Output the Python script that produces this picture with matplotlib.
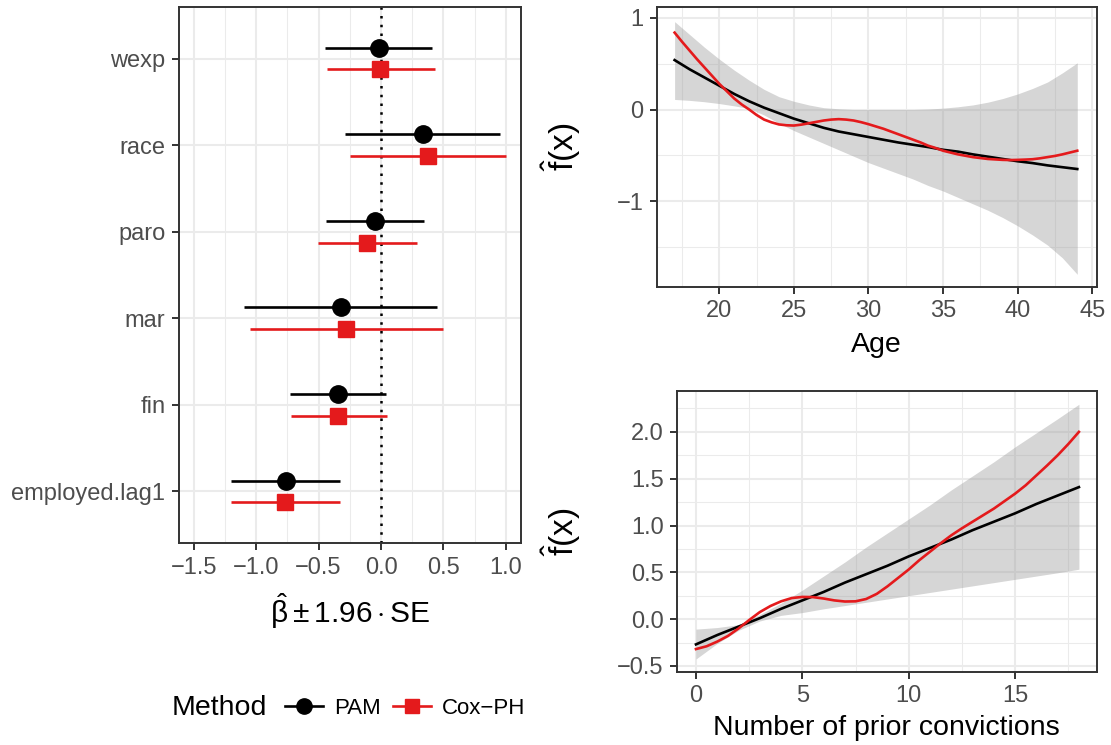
import matplotlib
matplotlib.use("Agg")
import matplotlib.pyplot as plt
from matplotlib.lines import Line2D
import numpy as np

plt.rcParams['font.family'] = ['Liberation Sans', 'DejaVu Sans']
plt.rcParams['mathtext.fontset'] = 'custom'
plt.rcParams['mathtext.rm'] = 'Liberation Sans'
plt.rcParams['mathtext.it'] = 'Liberation Sans'
plt.rcParams['mathtext.bf'] = 'Liberation Sans:bold'

# ---------------- data ---------------- #
terms = ['wexp', 'race', 'paro', 'mar', 'fin', 'employed.lag1']

pam_est = [-0.017, 0.332, -0.047, -0.324, -0.346, -0.764]
pam_lo = [-0.446, -0.285, -0.440, -1.094, -0.728, -1.199]
pam_hi = [0.410, 0.955, 0.346, 0.448, 0.036, -0.332]

cox_est = [-0.005, 0.374, -0.111, -0.280, -0.343, -0.767]
cox_lo = [-0.435, -0.252, -0.504, -1.050, -0.723, -1.199]
cox_hi = [0.430, 0.997, 0.290, 0.498, 0.047, -0.327]

age = [17, 18, 19, 20, 21, 22, 23, 24, 25, 26, 27, 28, 29, 30,
       31, 32, 33, 34, 35, 36, 37, 38, 39, 40, 41, 42, 43, 44]
age_pam = [0.54, 0.44, 0.35, 0.26, 0.17, 0.09, 0.02, -0.04, -0.10, -0.15, -0.20, -0.24, -0.27, -0.30,
           -0.33, -0.36, -0.385, -0.41, -0.44, -0.46, -0.49, -0.515, -0.54, -0.565, -0.585, -0.61, -0.63, -0.65]
age_hi = [0.96, 0.82, 0.68, 0.55, 0.43, 0.32, 0.22, 0.14, 0.09, 0.05, 0.02, 0.008, 0.0, 0.0,
          0.0, 0.0, 0.0, 0.005, 0.015, 0.03, 0.05, 0.08, 0.12, 0.17, 0.23, 0.30, 0.40, 0.51]
age_lo = [0.11, 0.10, 0.085, 0.065, 0.04, 0.01, -0.06, -0.15, -0.23, -0.30, -0.37, -0.44, -0.51, -0.58,
          -0.64, -0.70, -0.76, -0.83, -0.89, -0.96, -1.03, -1.10, -1.18, -1.27, -1.37, -1.48, -1.62, -1.80]

# Cox curve read at half-year steps (it bends more)
age_half = [17, 17.5, 18, 18.5, 19, 19.5, 20, 20.5, 21, 21.5, 22, 22.5, 23, 23.5, 24, 24.5,
            25, 25.5, 26, 26.5, 27, 27.5, 28, 28.5, 29, 29.5, 30, 30.5, 31, 31.5, 32, 32.5,
            33, 33.5, 34, 34.5, 35, 35.5, 36, 36.5, 37, 37.5, 38, 38.5, 39, 39.5, 40, 40.5,
            41, 41.5, 42, 42.5, 43, 43.5, 44]
age_cox = [0.84, 0.74, 0.645, 0.55, 0.46, 0.37, 0.28, 0.20, 0.12, 0.055, 0.0, -0.06, -0.11, -0.14,
           -0.163, -0.172, -0.175, -0.165, -0.15, -0.135, -0.12, -0.11, -0.105, -0.11, -0.12, -0.138,
           -0.16, -0.185, -0.21, -0.24, -0.27, -0.30, -0.33, -0.36, -0.395, -0.42, -0.45, -0.47,
           -0.49, -0.505, -0.52, -0.53, -0.54, -0.545, -0.55, -0.552, -0.55, -0.547, -0.543, -0.533,
           -0.52, -0.507, -0.49, -0.47, -0.45]

prio = [0, 1, 2, 3, 4, 5, 6, 7, 8, 9, 10, 11, 12, 13, 14, 15, 16, 17, 18]
prio_pam = [-0.27, -0.17, -0.08, 0.01, 0.11, 0.20, 0.29, 0.39, 0.48, 0.57,
            0.67, 0.76, 0.85, 0.95, 1.04, 1.13, 1.23, 1.32, 1.41]
prio_hi = [-0.107, -0.09, -0.06, 0.05, 0.17, 0.31, 0.46, 0.61, 0.77, 0.92,
           1.07, 1.22, 1.38, 1.53, 1.68, 1.84, 1.99, 2.14, 2.295]
prio_lo = [-0.426, -0.26, -0.12, -0.02, 0.04, 0.07, 0.11, 0.145, 0.18, 0.215,
           0.25, 0.285, 0.32, 0.355, 0.39, 0.425, 0.46, 0.495, 0.533]

prio_half = [0, 0.5, 1, 1.5, 2, 2.5, 3, 3.5, 4, 4.5, 5, 5.5, 6, 6.5, 7, 7.5, 8, 8.5, 9,
             9.5, 10, 10.5, 11, 11.5, 12, 12.5, 13, 13.5, 14, 14.5, 15, 15.5, 16, 16.5,
             17, 17.5, 18]
prio_cox = [-0.32, -0.29, -0.24, -0.18, -0.10, -0.01, 0.075, 0.14, 0.19, 0.225, 0.237,
            0.235, 0.22, 0.20, 0.188, 0.19, 0.215, 0.27, 0.35, 0.44, 0.53, 0.63, 0.72,
            0.81, 0.895, 0.97, 1.04, 1.11, 1.18, 1.26, 1.34, 1.43, 1.535, 1.64, 1.75,
            1.87, 2.0]

# ---------------- styling ---------------- #
RED = '#E41A1C'
GRID = '#EBEBEB'
BORDER = '#333333'
TICKTXT = '#4D4D4D'
TICK_FS = 17
TITLE_FS = 20.5
FHAT_FS = 24


def style_axes(ax):
    for s in ax.spines.values():
        s.set_color(BORDER)
        s.set_linewidth(1.4)
    ax.tick_params(which='major', length=5, width=1.4, color=BORDER,
                   labelsize=TICK_FS, labelcolor=TICKTXT, pad=4.5)
    ax.tick_params(which='minor', length=0)
    ax.grid(which='major', color=GRID, linewidth=1.5, zorder=0)
    ax.grid(which='minor', color=GRID, linewidth=0.75, zorder=0)
    ax.set_axisbelow(True)


fig = plt.figure(figsize=(11.11, 7.45), dpi=100)

# ---------------- coefficient plot ---------------- #
ax = fig.add_axes([0.1608, 0.2707, 0.3081, 0.7203])
ypos = np.arange(len(terms))[::-1] + 1.0
dodge = 0.125
ax.axvline(0, color='black', linestyle=(0, (1, 2.5)), linewidth=1.8, zorder=1)
ax.hlines(ypos + dodge, pam_lo, pam_hi, color='black', linewidth=1.9, zorder=2)
ax.plot(pam_est, ypos + dodge, 'o', color='black', markersize=12.5, zorder=3)
ax.hlines(ypos - dodge, cox_lo, cox_hi, color=RED, linewidth=1.9, zorder=2)
ax.plot(cox_est, ypos - dodge, 's', color=RED, markersize=11, zorder=3)
ax.set_yticks(ypos)
ax.set_yticklabels(terms)
ax.set_xticks([-1.5, -1.0, -0.5, 0.0, 0.5, 1.0])
ax.set_xticklabels(['\u22121.5', '\u22121.0', '\u22120.5', '0.0', '0.5', '1.0'])
ax.set_xticks([-1.25, -0.75, -0.25, 0.25, 0.75], minor=True)
ax.set_xlim(-1.62, 1.12)
ax.set_ylim(0.4, 6.6)
style_axes(ax)
ax.grid(which='minor', axis='y', visible=False)
ax.set_xlabel(r'$\hat{\beta} \pm 1.96 \cdot \mathrm{SE}$', fontsize=21.5, labelpad=9)

# ---------------- age smooth ---------------- #
ax1 = fig.add_axes([0.5911, 0.6152, 0.3960, 0.3758])
ax1.fill_between(age, age_lo, age_hi, color='#999999', alpha=0.4, linewidth=0, zorder=1)
ax1.plot(age, age_pam, color='black', linewidth=1.9, zorder=2)
ax1.plot(age_half, age_cox, color=RED, linewidth=1.9, zorder=3)
ax1.set_xticks([20, 25, 30, 35, 40, 45])
ax1.set_xticks([17.5, 22.5, 27.5, 32.5, 37.5, 42.5], minor=True)
ax1.set_yticks([-1, 0, 1])
ax1.set_yticklabels(['\u22121', '0', '1'])
ax1.set_yticks([-1.5, -0.5, 0.5], minor=True)
ax1.set_xlim(15.8, 45.3)
ax1.set_ylim(-1.935, 1.123)
style_axes(ax1)
ax1.set_xlabel('Age', fontsize=TITLE_FS, labelpad=7)
ax1.set_ylabel(r'$\hat{\mathrm{f}}(\mathrm{x})$', fontsize=FHAT_FS)
ax1.yaxis.set_label_coords(-0.1675, 0.5)

# ---------------- prior convictions smooth ---------------- #
ax2 = fig.add_axes([0.6091, 0.0976, 0.3783, 0.3776])
ax2.fill_between(prio, prio_lo, prio_hi, color='#999999', alpha=0.4, linewidth=0, zorder=1)
ax2.plot(prio, prio_pam, color='black', linewidth=1.9, zorder=2)
ax2.plot(prio_half, prio_cox, color=RED, linewidth=1.9, zorder=3)
ax2.set_xticks([0, 5, 10, 15])
ax2.set_xticks([2.5, 7.5, 12.5, 17.5], minor=True)
ax2.set_yticks([-0.5, 0.0, 0.5, 1.0, 1.5, 2.0])
ax2.set_yticklabels(['\u22120.5', '0.0', '0.5', '1.0', '1.5', '2.0'])
ax2.set_yticks([-0.25, 0.25, 0.75, 1.25, 1.75, 2.25], minor=True)
ax2.set_xlim(-0.906, 18.85)
ax2.set_ylim(-0.568, 2.437)
style_axes(ax2)
ax2.set_xlabel('Number of prior convictions', fontsize=TITLE_FS, labelpad=5.5)
ax2.set_ylabel(r'$\hat{\mathrm{f}}(\mathrm{x})$', fontsize=FHAT_FS)
ax2.yaxis.set_label_coords(-0.223, 0.5)

# ---------------- legend ---------------- #
fig.text(172 / 1111, 1 - 708 / 745, 'Method', fontsize=TITLE_FS, ha='left', va='center')
handles = [Line2D([], [], color='black', marker='o', markersize=11, linewidth=1.9),
           Line2D([], [], color=RED, marker='s', markersize=10, linewidth=1.9)]
fig.legend(handles, ['PAM', 'Cox\u2212PH'], loc='center left',
           bbox_to_anchor=(285 / 1111, 1 - 708 / 745), ncol=2, frameon=False,
           fontsize=16, handlelength=1.7, handletextpad=0.5, columnspacing=0.55,
           borderpad=0, borderaxespad=0)

fig.savefig('out.png', dpi=100)
